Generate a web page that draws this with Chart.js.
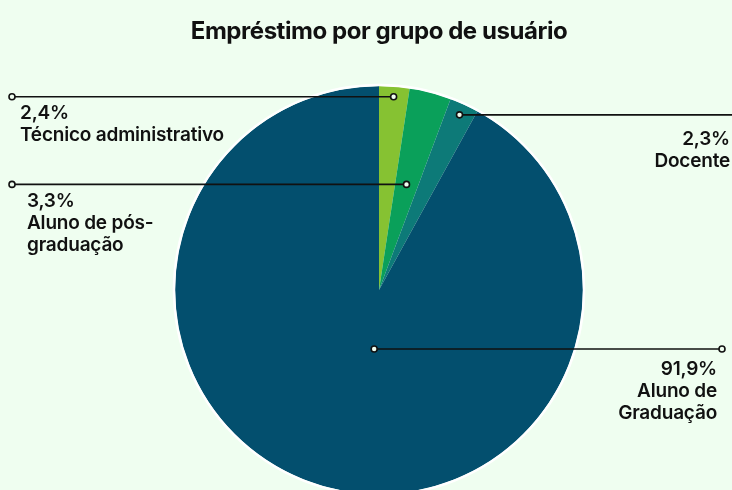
<html>
<head>
<meta charset="utf-8">
<style>
  html, body { margin: 0; padding: 0; background: #effef0; overflow: hidden; }
  #wrap { width: 732px; height: 500px; }
</style>
</head>
<body>
  <script src="https://cdn.jsdelivr.net/npm/chart.js"></script>
  <div id="wrap"><canvas id="myChart" width="732" height="500"></canvas></div>
  <script>
    var title = 'Empréstimo por grupo de usuário'
    var labels = ['Técnico administrativo', 'Aluno de pós-graduação', 'Docente', 'Aluno de Graduação']
    var values = [2.4, 3.3, 2.3, 91.9]
    var percentText = ['2,4%', '3,3%', '2,3%', '91,9%']
    var labelLines = [['Técnico administrativo'], ['Aluno de pós-', 'graduação'], ['Docente'], ['Aluno de', 'Graduação']]
    var colors = ['#86c232', '#0aa05a', '#0d7a78', '#034f6e']

    // callout layout: where the leader line ends and where the text sits
    var callouts = [
      { k: 0.95, turn: 0, endX: 12, side: 'left', textX: 20, textY: 119 },
      { k: 0.535, turn: 0, endX: 12, side: 'left', textX: 27, textY: 207 },
      { k: 0.945, turn: 0, endX: 740, side: 'right', textX: 730, textY: 145 },
      { k: 0.29, turn: -0.17, endX: 722, side: 'right', textX: 717, textY: 375 }
    ]

    var font = '"Inter", "Noto Sans", sans-serif'
    var bg = '#effef0'

    function dot(ctx, x, y) {
      ctx.beginPath()
      ctx.arc(x, y, 3, 0, Math.PI * 2)
      ctx.fillStyle = bg
      ctx.fill()
      ctx.lineWidth = 1.6
      ctx.strokeStyle = '#111'
      ctx.stroke()
    }

    var calloutPlugin = {
      id: 'callouts',
      beforeDraw: function(chart) {
        var ctx = chart.ctx
        ctx.save()
        ctx.fillStyle = bg
        ctx.fillRect(0, 0, chart.width, chart.height)
        ctx.fillStyle = '#111'
        ctx.font = '700 24px ' + font
        ctx.letterSpacing = '-0.45px'
        ctx.textAlign = 'center'
        ctx.textBaseline = 'alphabetic'
        ctx.fillText(title, 379, 39)
        ctx.restore()
      },
      afterDatasetsDraw: function(chart) {
        var ctx = chart.ctx
        var arcs = chart.getDatasetMeta(0).data
        ctx.save()
        // white ring round the pie
        var a0 = arcs[0]
        ctx.beginPath()
        ctx.arc(a0.x, a0.y, a0.outerRadius + 1, 0, Math.PI * 2)
        ctx.lineWidth = 2.5
        ctx.strokeStyle = '#ffffff'
        ctx.stroke()
        arcs.forEach(function(arc, i) {
          var c = callouts[i]
          var mid = (arc.startAngle + arc.endAngle) / 2 + c.turn
          var r = arc.outerRadius * c.k
          var px = arc.x + Math.cos(mid) * r
          var py = arc.y + Math.sin(mid) * r
          ctx.beginPath()
          ctx.moveTo(px, py)
          ctx.lineTo(c.endX, py)
          ctx.lineWidth = 1.6
          ctx.strokeStyle = '#111'
          ctx.stroke()
          dot(ctx, px, py)
          if (c.endX < 732) dot(ctx, c.endX, py)
          ctx.fillStyle = '#111'
          ctx.font = '600 19px ' + font
          ctx.letterSpacing = '-0.2px'
          ctx.textAlign = c.side
          var lines = [percentText[i]].concat(labelLines[i])
          lines.forEach(function(t, j) {
            ctx.fillText(t, c.textX, c.textY + j * 22)
          })
        })
        ctx.restore()
      }
    }

    var ctx = document.getElementById('myChart').getContext('2d')
    var myChart = new Chart(ctx, {
      type: 'pie',
      data: {
        labels: labels,
        datasets: [{
          data: values,
          backgroundColor: colors,
          borderWidth: 0
        }]
      },
      options: {
        responsive: false,
        animation: false,
        layout: { padding: { top: 86, bottom: 6, left: 175, right: 149 } },
        plugins: {
          legend: { display: false },
          tooltip: { enabled: false },
          title: { display: false }
        }
      },
      plugins: [calloutPlugin]
    })
  </script>
</body>
</html>
